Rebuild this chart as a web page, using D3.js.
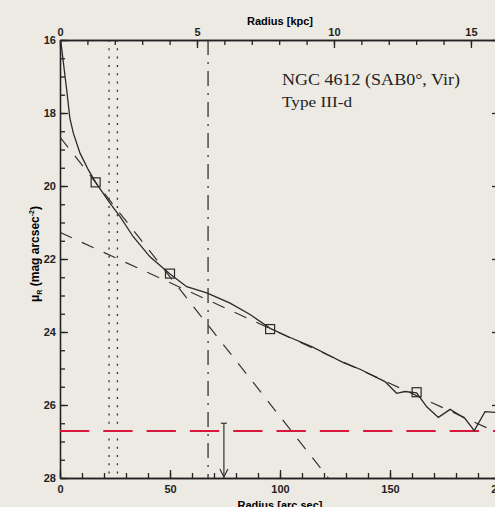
<!DOCTYPE html>
<html>
<head>
<meta charset="utf-8">
<script src="https://cdn.jsdelivr.net/npm/d3@7"></script>
<style>
    body { margin: 0; background: #edeae4; }
    svg { display: block; }
    .axis text { font-family: "Liberation Sans", Arial, sans-serif; font-weight: bold; font-size: 11px; fill: #222; }
    .axis path, .axis line { stroke: #222; stroke-width: 1.3; }
</style>
</head>
<body>
<div id="chart"></div>
<script>

// surface brightness profile (radius in arcsec, mu_R)
var profileR = [0, 0.5, 2, 3.2, 4.5, 6.1, 9.1, 12.9, 16.2, 22.7, 27.3, 33.3, 40.9, 50, 57.6, 66.7, 77.3, 86.4, 95.5,
    103.8, 114.4, 122, 128.8, 136.4, 147.7, 153, 156.8, 162.1, 166.7, 172, 177.3, 184.1, 188.3, 193.2, 197.7, 200];
var profileMu = [16.0, 16.1, 16.85, 17.45, 18.15, 18.56, 19.1, 19.56, 19.9, 20.47, 20.84, 21.39, 21.94, 22.41, 22.76, 22.93, 23.21, 23.52, 23.9,
    24.13, 24.4, 24.63, 24.84, 25.02, 25.36, 25.68, 25.63, 25.67, 26.05, 26.34, 26.12, 26.37, 26.7, 26.18, 26.2, 26.2];

// square markers
var markerR = [16.2, 50, 95.5, 162.1];
var markerMu = [19.9, 22.4, 23.92, 25.65];

// fitted exponential disks (end points)
var innerFitR = [0, 122];
var innerFitMu = [18.66, 28.0];
var outerFitR = [0, 200];
var outerFitMu = [21.27, 26.79];

// vertical markers
var dottedR = [22.3, 26.1];
var dashDotR = 67.3;
var arrowR = 74.5;
var arrowMu = [26.5, 28];
var limitMu = 26.71;

var xTicksMajor = [0, 50, 100, 150, 200];
var kpcTicksMajor = [0, 5, 10, 15];
var muTicksMajor = [16, 18, 20, 22, 24, 26, 28];
var kpcPerArcsec = 0.0803;

var margin = { top: 40, left: 60 };
var width = 440, height = 438;

var x = d3.scaleLinear().domain([0, 200]).range([0, width]);
var xKpc = d3.scaleLinear().domain([0, 200 * kpcPerArcsec]).range([0, width]);
var y = d3.scaleLinear().domain([16, 28]).range([0, height]);

var svg = d3.select("#chart").append("svg")
    .attr("width", 495)
    .attr("height", 507)
    .append("g")
    .attr("transform", "translate(" + margin.left + "," + margin.top + ")");

svg.append("defs").append("clipPath")
    .attr("id", "clip")
    .append("rect")
    .attr("width", width)
    .attr("height", height);

// minor ticks first, then major ones (with or without labels)
function addAxis(axisFn, scale, minor, major, transform, pad, labels) {
    svg.append("g").attr("class", "axis").attr("transform", transform)
        .call(axisFn(scale).tickValues(minor).tickSizeInner(-5).tickSizeOuter(0).tickFormat(""));
    svg.append("g").attr("class", "axis").attr("transform", transform)
        .call(axisFn(scale).tickValues(major).tickSizeInner(-8).tickSizeOuter(0).tickPadding(pad)
            .tickFormat(labels ? d3.format("d") : ""));
}

addAxis(d3.axisBottom, x, d3.range(0, 201, 10), xTicksMajor, "translate(0," + height + ")", 7, true);
addAxis(d3.axisTop, xKpc, d3.range(0, 17, 1), kpcTicksMajor, "translate(0,0)", 4, true);
addAxis(d3.axisLeft, y, d3.range(16, 28.01, 0.5), muTicksMajor, "translate(0,0)", 4, true);
addAxis(d3.axisRight, y, d3.range(16, 28.01, 0.5), muTicksMajor, "translate(" + width + ",0)", 4, false);

// axis titles
svg.append("text")
    .attr("x", width / 2).attr("y", -15)
    .attr("text-anchor", "middle")
    .style("font", "bold 11px 'Liberation Sans', Arial, sans-serif")
    .text("Radius [kpc]");

svg.append("text")
    .attr("x", width / 2).attr("y", height + 31)
    .attr("text-anchor", "middle")
    .style("font", "bold 11px 'Liberation Sans', Arial, sans-serif")
    .text("Radius [arc sec]");

var ylab = svg.append("text")
    .attr("transform", "translate(-21,214) rotate(-90)")
    .attr("text-anchor", "middle")
    .style("font", "bold 12px 'Liberation Sans', Arial, sans-serif");
ylab.append("tspan").text("\u03bc");
ylab.append("tspan").attr("font-size", "7px").attr("dy", 3).text("R");
ylab.append("tspan").attr("dy", -3).text(" (mag arcsec");
ylab.append("tspan").attr("font-size", "7px").attr("dy", -5).text("-2");
ylab.append("tspan").attr("dy", 5).text(")");

// galaxy name
svg.append("text")
    .attr("x", 222).attr("y", 45)
    .attr("textLength", 178).attr("lengthAdjust", "spacingAndGlyphs")
    .style("font", "16px 'Liberation Serif', 'DejaVu Serif', serif")
    .style("fill", "#222")
    .text("NGC 4612 (SAB0\u00b0, Vir)");
svg.append("text")
    .attr("x", 222).attr("y", 66.5)
    .attr("textLength", 70).attr("lengthAdjust", "spacingAndGlyphs")
    .style("font", "14px 'Liberation Serif', 'DejaVu Serif', serif")
    .style("fill", "#222")
    .text("Type III-d");

var plot = svg.append("g").attr("clip-path", "url(#clip)");

// vertical dotted lines
plot.selectAll(".dotted")
    .data(dottedR)
    .enter().append("line")
    .attr("x1", function(d) { return x(d); })
    .attr("x2", function(d) { return x(d); })
    .attr("y1", 0).attr("y2", height)
    .attr("stroke", "#333").attr("stroke-width", 1.3)
    .attr("stroke-dasharray", "2,6.3");

// dash-dot line (break radius)
plot.append("line")
    .attr("x1", x(dashDotR)).attr("x2", x(dashDotR))
    .attr("y1", 0).attr("y2", height)
    .attr("stroke", "#333").attr("stroke-width", 1.3)
    .attr("stroke-dasharray", "15,7,2,7");

// limiting surface brightness
plot.append("line")
    .attr("x1", 0).attr("x2", width)
    .attr("y1", y(limitMu)).attr("y2", y(limitMu))
    .attr("stroke", "#d8173d").attr("stroke-width", 2)
    .attr("stroke-dasharray", "29.3,14");

var line = d3.line()
    .x(function(d) { return x(d[0]); })
    .y(function(d) { return y(d[1]); });

// fitted disks
[[innerFitR, innerFitMu], [outerFitR, outerFitMu]].forEach(function(f) {
    plot.append("path")
        .datum(d3.zip(f[0], f[1]))
        .attr("d", line)
        .attr("fill", "none")
        .attr("stroke", "#333").attr("stroke-width", 1.2)
        .attr("stroke-dasharray", "13,11");
});

// profile
plot.append("path")
    .datum(d3.zip(profileR, profileMu))
    .attr("d", line)
    .attr("fill", "none")
    .attr("stroke", "#2a2a2a").attr("stroke-width", 1.3);

// markers
plot.selectAll(".box")
    .data(d3.zip(markerR, markerMu))
    .enter().append("rect")
    .attr("x", function(d) { return x(d[0]) - 4.5; })
    .attr("y", function(d) { return y(d[1]) - 4.5; })
    .attr("width", 9).attr("height", 9)
    .attr("fill", "none")
    .attr("stroke", "#2a2a2a").attr("stroke-width", 1.2);

// arrow
var ax = x(arrowR);
plot.append("line")
    .attr("x1", ax).attr("x2", ax)
    .attr("y1", y(arrowMu[0])).attr("y2", y(arrowMu[1]))
    .attr("stroke", "#333").attr("stroke-width", 1.2);
plot.append("line")
    .attr("x1", ax - 3).attr("x2", ax + 3)
    .attr("y1", y(arrowMu[0])).attr("y2", y(arrowMu[0]))
    .attr("stroke", "#333").attr("stroke-width", 1.2);
plot.append("path")
    .attr("d", "M" + (ax - 4) + "," + (y(arrowMu[1]) - 9) + "L" + ax + "," + (y(arrowMu[1]) - 1) + "L" + (ax + 4) + "," + (y(arrowMu[1]) - 9))
    .attr("fill", "none")
    .attr("stroke", "#333").attr("stroke-width", 1.2);

</script>
</body>
</html>
